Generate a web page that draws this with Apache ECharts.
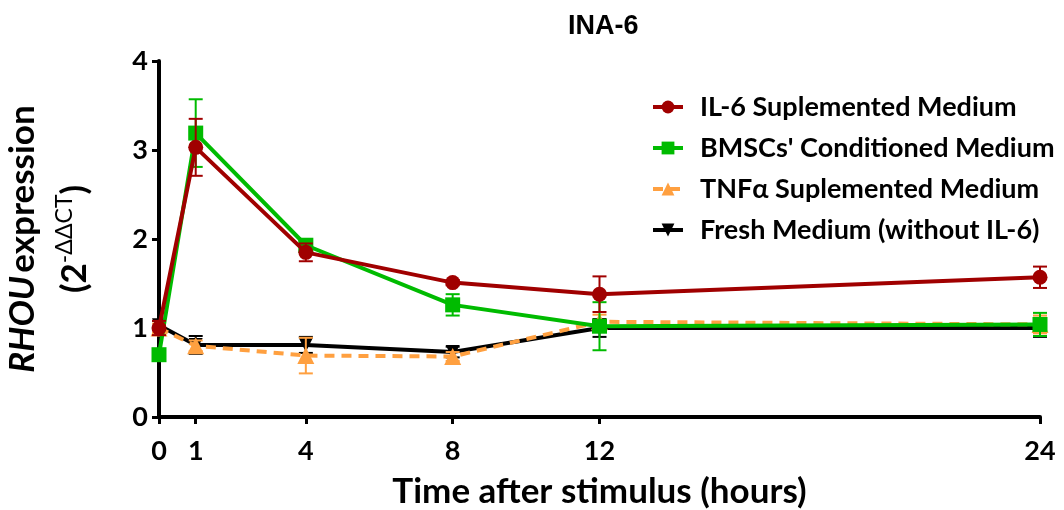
<!DOCTYPE html>
<html>
<head>
<meta charset="utf-8">
<script src="https://cdn.jsdelivr.net/npm/echarts@6/dist/echarts.min.js"></script>
<style>
  html, body { margin: 0; padding: 0; background: #fff; }
  #chart { width: 1064px; height: 510px; }
</style>
</head>
<body>
<div id="chart"></div>
<script>
// Sampling times (hours after stimulus)
const hours = [0, 1, 4, 8, 12, 24];
const yTicks = [0, 1, 2, 3, 4];

// RHOU relative expression (2^-ΔΔCT), mean and error per time point
const il6Mean   = [1.00, 3.03, 1.85, 1.51, 1.38, 1.57];
const il6Err    = [0.08, 0.32, 0.10, 0.03, 0.20, 0.12];
const bmscMean  = [0.70, 3.19, 1.93, 1.26, 1.02, 1.04];
const bmscErr   = [0.03, 0.38, 0.05, 0.12, 0.27, 0.13];
const tnfMean   = [1.00, 0.80, 0.69, 0.68, 1.07, 1.04];
const tnfErr    = [0.05, 0.06, 0.20, 0.05, 0.08, 0.10];
const freshMean = [1.03, 0.81, 0.81, 0.73, 1.00, 1.00];
const freshErr  = [0.05, 0.10, 0.09, 0.06, 0.10, 0.10];

const seriesNames = [
  'IL-6 Suplemented Medium',
  "BMSCs' Conditioned Medium",
  'TNF\u03b1 Suplemented Medium',
  'Fresh Medium (without IL-6)'
];

const FONT = 'Lato, "Open Sans", sans-serif';

function lineSeries(name, means, color, symbol, size, z, extra) {
  return Object.assign({
    type: 'line',
    name: name,
    z: z,
    data: hours.map((h, i) => [h, means[i]]),
    symbol: symbol,
    symbolSize: size,
    showAllSymbol: true,
    lineStyle: { width: 4, color: color },
    itemStyle: { color: color, opacity: 1 },
    emphasis: { disabled: true }
  }, extra || {});
}

function errorSeries(name, means, errs, color, z) {
  return {
    type: 'custom',
    name: name,
    z: z,
    silent: true,
    data: hours.map((h, i) => [h, means[i] - errs[i], means[i] + errs[i]]),
    encode: { x: 0, y: [1, 2] },
    renderItem: function (params, api) {
      const x = api.value(0);
      const lo = api.coord([x, api.value(1)]);
      const hi = api.coord([x, api.value(2)]);
      const half = 7;
      const style = { stroke: color, lineWidth: 2, fill: null };
      return {
        type: 'group',
        children: [
          { type: 'line', shape: { x1: lo[0], y1: lo[1], x2: hi[0], y2: hi[1] }, style: style },
          { type: 'line', shape: { x1: lo[0] - half, y1: lo[1], x2: lo[0] + half, y2: lo[1] }, style: style },
          { type: 'line', shape: { x1: hi[0] - half, y1: hi[1], x2: hi[0] + half, y2: hi[1] }, style: style }
        ]
      };
    }
  };
}

const RED = '#a00000';
const GREEN = '#00bb00';
const ORANGE = '#ffa040';
const BLACK = '#000000';

const chart = echarts.init(document.getElementById('chart'), null, { renderer: 'canvas' });

chart.setOption({
  animation: false,
  backgroundColor: '#ffffff',
  title: {
    text: 'INA-6',
    left: 563,
    top: 8,
    textStyle: { fontFamily: '"Liberation Sans", Arial, sans-serif', fontWeight: 'bold', fontSize: 27, color: '#000' }
  },
  grid: { left: 159, right: 24, top: 61, bottom: 93, containLabel: false, outerBoundsMode: 'none' },
  legend: {
    orient: 'vertical',
    left: 646,
    top: 87,
    itemWidth: 30,
    itemHeight: 16,
    itemGap: 11,
    data: seriesNames,
    lineStyle: { width: 4 },
    textStyle: { fontFamily: FONT, fontWeight: 'bold', fontSize: 27, color: '#000', lineHeight: 30, padding: [0, 0, 0, 12] }
  },
  xAxis: {
    type: 'value',
    min: 0,
    max: 24,
    name: 'Time after stimulus (hours)',
    nameLocation: 'middle',
    nameGap: 57,
    nameTextStyle: { fontFamily: FONT, fontWeight: 'bold', fontSize: 35, color: '#000' },
    splitLine: { show: false },
    axisLine: { show: true, onZero: false, lineStyle: { color: '#000', width: 4 } },
    axisTick: { show: true, length: 7, customValues: hours, lineStyle: { color: '#000', width: 3 } },
    axisLabel: { customValues: hours, margin: 21, fontFamily: FONT, fontWeight: 'bold', fontSize: 27, color: '#000' }
  },
  yAxis: {
    type: 'value',
    min: 0,
    max: 4,
    interval: 1,
    name: '{it|RHOU} {b|expression}\n{b|(2}{sup|-\u0394\u0394CT}{b|)}',
    nameLocation: 'middle',
    nameRotate: 90,
    nameGap: 58,
    nameTextStyle: {
      color: '#000',
      rich: {
        it: { fontFamily: FONT, fontWeight: 'bold', fontStyle: 'italic', fontSize: 35, color: '#000', lineHeight: 52 },
        b:  { fontFamily: FONT, fontWeight: 'bold', fontSize: 35, color: '#000', lineHeight: 52 },
        sup: { fontFamily: FONT, fontWeight: 'normal', fontSize: 23, color: '#000', padding: [0, 0, 20, 0] }
      }
    },
    splitLine: { show: false },
    axisLine: { show: true, lineStyle: { color: '#000', width: 4 } },
    axisTick: { show: true, length: 7, lineStyle: { color: '#000', width: 3 } },
    axisLabel: {
      margin: 11, fontFamily: FONT, fontWeight: 'bold', fontSize: 27, color: '#000',
      customValues: yTicks
    }
  },
  series: [
    lineSeries(seriesNames[3], freshMean, BLACK, 'triangle', 14, 2, { symbolRotate: 180 }),
    errorSeries('fresh-sd', freshMean, freshErr, BLACK, 2),
    lineSeries(seriesNames[2], tnfMean, ORANGE, 'triangle', 17, 3, { lineStyle: { width: 4, color: ORANGE, type: [10, 7] } }),
    errorSeries('tnf-sd', tnfMean, tnfErr, ORANGE, 3),
    lineSeries(seriesNames[1], bmscMean, GREEN, 'rect', 15, 4),
    errorSeries('bmsc-sd', bmscMean, bmscErr, GREEN, 4),
    lineSeries(seriesNames[0], il6Mean, RED, 'circle', 15, 5),
    errorSeries('il6-sd', il6Mean, il6Err, RED, 5)
  ]
});
</script>
</body>
</html>
